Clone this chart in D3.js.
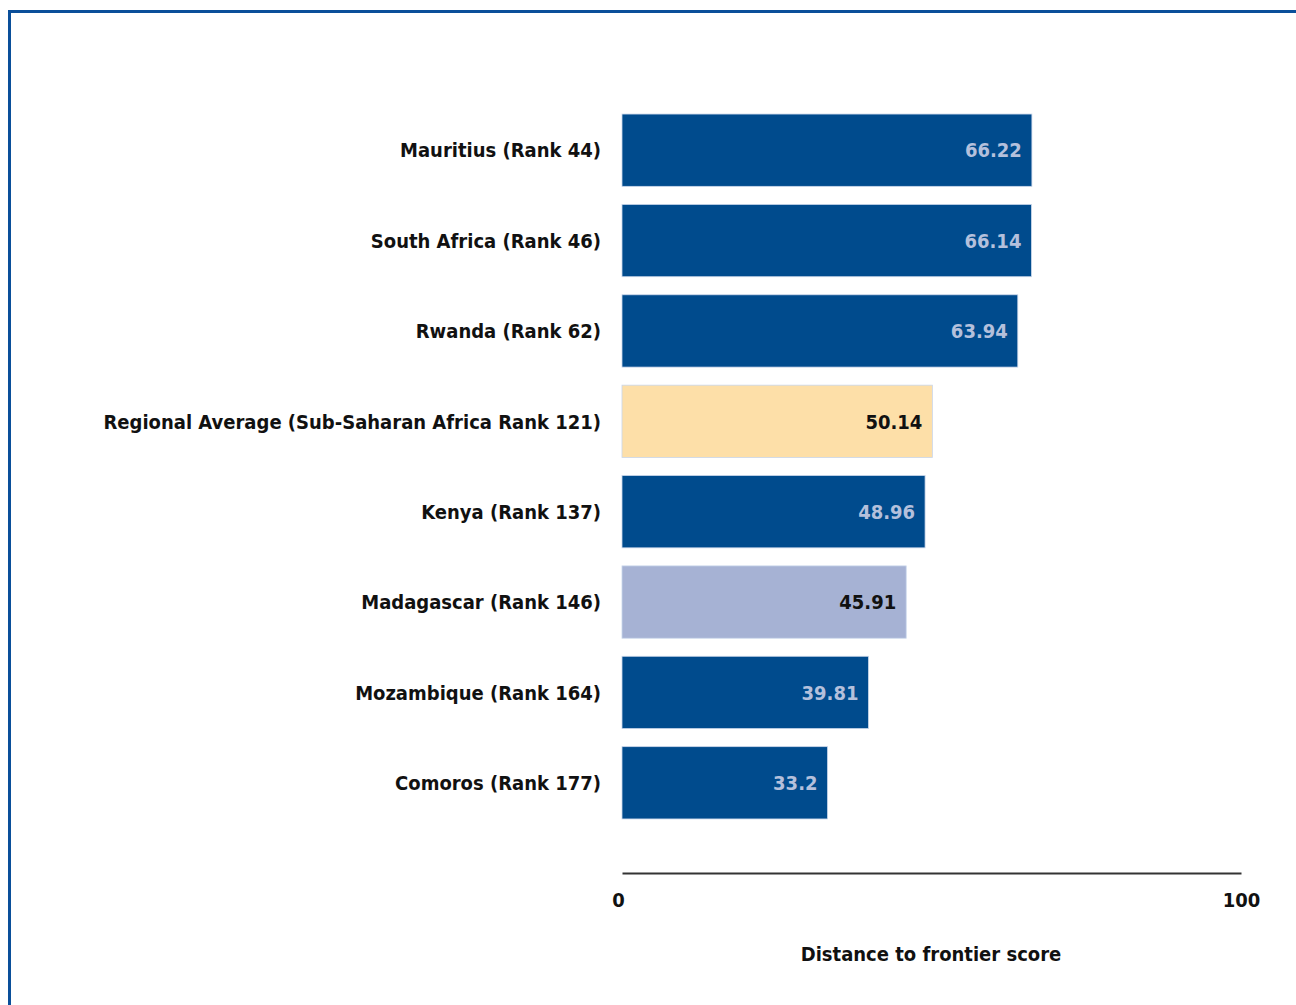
<!DOCTYPE html>
<html>
<head>
<meta charset="utf-8">
<script src="https://cdn.jsdelivr.net/npm/d3@7"></script>
<style>
  body { margin: 0; background: #fff; }
  svg text { font-family: "DejaVu Sans Condensed", "DejaVu Sans", sans-serif; font-weight: bold; }
</style>
</head>
<body>
<script>
// chart data
const categories = [
	"Mauritius (Rank 44)",
	"South Africa (Rank 46)",
	"Rwanda (Rank 62)",
	"Regional Average (Sub-Saharan Africa Rank 121)",
	"Kenya (Rank 137)",
	"Madagascar (Rank 146)",
	"Mozambique (Rank 164)",
	"Comoros (Rank 177)"
];
const scores = [66.22, 66.14, 63.94, 50.14, 48.96, 45.91, 39.81, 33.2];
const scoreLabels = ["66.22", "66.14", "63.94", "50.14", "48.96", "45.91", "39.81", "33.2"];
const xTicks = [0, 100];
const xTitle = "Distance to frontier score";

const w = 1296;
const h = 1005;

const svg = d3.select("body").append("svg").attr("width", w).attr("height", h);

// frame (runs off the right and bottom edge)
svg.append("rect")
	.attr("x", 9.5).attr("y", 11.5)
	.attr("width", 1400).attr("height", 1100)
	.attr("fill", "none")
	.attr("stroke", "#0a4f9a")
	.attr("stroke-width", 3);

const x = d3.scaleLinear().domain([0, 100]).range([622, 1241]);
const y = d3.scaleBand().domain(categories).range([105, 828]).paddingInner(0.2).paddingOuter(0.1);

// bar colours: regional average is orange, Madagascar is light blue
const fillFor = (d, i) => i === 3 ? "#fddfa8" : i === 5 ? "#a6b2d4" : "#004b8d";
const textFor = (d, i) => (i === 3 || i === 5) ? "#111" : "#b4c0dc";

const bars = svg.append("g").selectAll("g")
	.data(categories)
	.enter()
	.append("g");

bars.append("rect")
	.attr("x", x(0))
	.attr("y", (d) => y(d))
	.attr("width", (d, i) => x(scores[i]) - x(0))
	.attr("height", y.bandwidth())
	.attr("fill", fillFor)
	.attr("stroke", "#c9d6ea")
	.attr("stroke-width", 0.8);

// value labels inside bar ends
bars.append("text")
	.attr("x", (d, i) => x(scores[i]) - 10)
	.attr("y", (d) => y(d) + y.bandwidth() / 2)
	.attr("dy", "0.36em")
	.attr("text-anchor", "end")
	.attr("font-size", 20)
	.attr("fill", textFor)
	.text((d, i) => scoreLabels[i]);

// category labels
bars.append("text")
	.attr("x", 601)
	.attr("y", (d) => y(d) + y.bandwidth() / 2)
	.attr("dy", "0.36em")
	.attr("text-anchor", "end")
	.attr("font-size", 20)
	.attr("fill", "#111")
	.text((d) => d);

// x axis
const xAxis = d3.axisBottom(x).tickValues(xTicks).tickSize(0).tickPadding(20).tickFormat(d3.format("d"));
const gx = svg.append("g")
	.attr("transform", "translate(0, 873)")
	.call(xAxis);
gx.select(".domain").attr("stroke", "#333").attr("stroke-width", 2);
gx.selectAll(".tick text")
	.attr("font-size", 20)
	.attr("fill", "#111")
	.attr("font-family", null);
gx.selectAll(".tick").filter((d) => d === 0).select("text").attr("dx", -4);

svg.append("text")
	.attr("x", 931)
	.attr("y", 961)
	.attr("text-anchor", "middle")
	.attr("font-size", 20)
	.attr("fill", "#111")
	.text(xTitle);
</script>
</body>
</html>
